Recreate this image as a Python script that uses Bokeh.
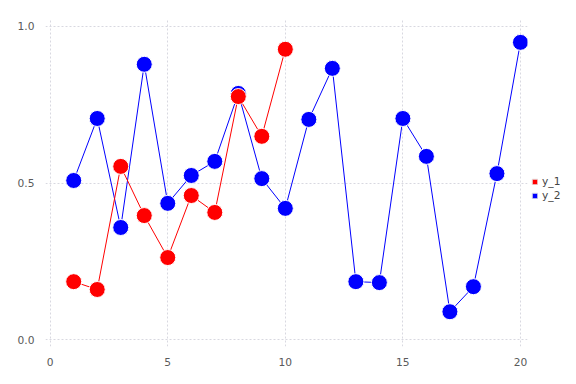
from bokeh.plotting import figure
from bokeh.models import Legend, LegendItem, Range1d, FixedTicker
from bokeh.embed import file_html
from bokeh.resources import INLINE

x1 = [1, 2, 3, 4, 5, 6, 7, 8, 9, 10]
y_1 = [0.185, 0.16, 0.553, 0.396, 0.262, 0.46, 0.406, 0.776, 0.649, 0.927]
x2 = list(range(1, 21))
y_2 = [0.508, 0.706, 0.358, 0.879, 0.435, 0.524, 0.569, 0.786, 0.514, 0.419,
       0.703, 0.866, 0.185, 0.182, 0.706, 0.585, 0.089, 0.169, 0.530, 0.949]
x_ticks = [0, 5, 10, 15, 20]
y_ticks = [0.0, 0.5, 1.0]
NAN = float("nan")

p = figure(frame_width=482, frame_height=327, output_backend="svg", toolbar_location=None,
           x_range=Range1d(-0.2, 20.3), y_range=Range1d(-0.022, 1.022),
           min_border_left=45, min_border_top=19, min_border_bottom=10, min_border_right=2)
p.outline_line_color = None

l2 = p.line(x2, y_2, line_color="blue", line_width=1)
c2 = p.scatter(x2, y_2, size=16, fill_color="blue", line_color="white", line_width=1)
l1 = p.line(x1, y_1, line_color="red", line_width=1)
c1 = p.scatter(x1, y_1, size=16, fill_color="red", line_color="white", line_width=1)

# legend swatches only (NaN data: nothing is drawn in the plot area)
s1 = p.quad(left=[NAN], right=[NAN], bottom=[NAN], top=[NAN], fill_color="red", line_color="#e6e6e6", line_width=1)
s2 = p.quad(left=[NAN], right=[NAN], bottom=[NAN], top=[NAN], fill_color="blue", line_color="#e6e6e6", line_width=1)

for ax in (p.xaxis[0], p.yaxis[0]):
    ax.axis_line_color = None
    ax.major_tick_line_color = None
    ax.minor_tick_line_color = None
    ax.major_label_text_color = "#5a5a5a"
    ax.major_label_text_font_size = "8pt"
    ax.major_label_text_font = "DejaVu Sans"
p.xaxis.ticker = FixedTicker(ticks=x_ticks)
p.yaxis.ticker = FixedTicker(ticks=y_ticks)
p.yaxis.major_label_overrides = {0: "0.0", 0.5: "0.5", 1: "1.0"}

for g in (p.xgrid[0], p.ygrid[0]):
    g.grid_line_color = "#d8d8e0"
    g.grid_line_dash = "2 2"
    g.grid_line_width = 1

legend = Legend(items=[LegendItem(label="y_1", renderers=[s1]),
                       LegendItem(label="y_2", renderers=[s2])],
                label_text_font_size="8pt", label_text_color="#444444",
                label_text_font="DejaVu Sans",
                glyph_width=7, glyph_height=7, spacing=1, padding=0, margin=0,
                label_height=12, label_standoff=4, border_line_color=None,
                background_fill_alpha=0, location=(4, 144))
p.add_layout(legend, "right")

open("out.html", "w").write(file_html(p, INLINE))
